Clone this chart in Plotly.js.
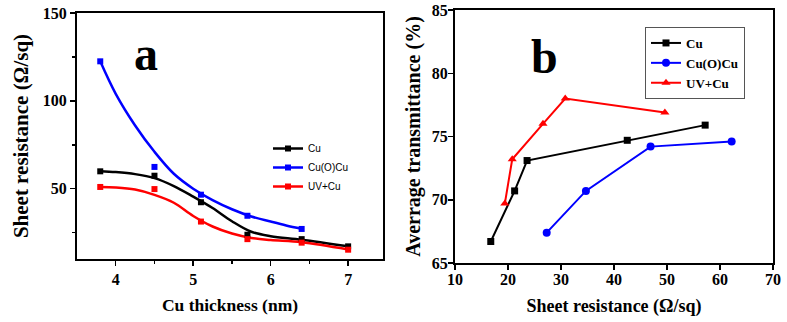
<!DOCTYPE html>
<html>
<head>
<meta charset="utf-8">
<script src="https://cdn.plot.ly/plotly-3.0.1.min.js"></script>
<style>html,body{margin:0;padding:0;background:#fff;}#chart{width:787px;height:322px;}</style>
</head>
<body>
<div id="chart"></div>
<script>
// ---- Panel a: sheet resistance vs Cu thickness ----
const thickness = [3.8, 4.5, 5.1, 5.7, 6.4, 7.0];
const rsCu = [59.9, 57.4, 42.3, 23.8, 21.3, 17.2];
const thicknessCuOCu = [3.8, 4.5, 5.1, 5.7, 6.4];
const rsCuOCu = [122.5, 62.4, 46.6, 34.6, 27.1];
const rsUV = [51.0, 49.8, 31.3, 21.3, 19.3, 15.3];

// smooth fitted curves
const fitX = [3.8, 4.0, 4.25, 4.5, 4.75, 5.0, 5.25, 5.5, 5.75, 6.0, 6.4, 7.0];
const fitCu = [60, 59.5, 58.3, 56, 51.5, 45.5, 39, 31.5, 25.5, 23, 21, 17.2];
const fitXCuOCu = [3.8, 4.0, 4.25, 4.5, 4.75, 5.0, 5.25, 5.5, 5.75, 6.0, 6.2, 6.4];
const fitCuOCu = [122.5, 104, 86, 71, 58.5, 50, 43.5, 38.3, 34.2, 31.3, 29.1, 27.2];
const fitUV = [51, 50.7, 49.5, 46.5, 42, 34.5, 28.5, 24.5, 22, 20.8, 19.5, 15.4];

// ---- Panel b: transmittance vs sheet resistance ----
const bCuRs = [16.75, 21.25, 23.6, 42.5, 57.2];
const bCuT = [66.7, 70.7, 73.1, 74.7, 75.9];
const bCuOCuRs = [27.3, 34.7, 46.9, 62.2];
const bCuOCuT = [67.4, 70.7, 74.2, 74.6];
const bUVRs = [19.4, 20.8, 26.6, 30.8, 49.6];
const bUVT = [69.7, 73.2, 76.0, 78.0, 76.9];

const seriesNames = ['Cu', 'Cu(O)Cu', 'UV+Cu'];
const colors = ['#000000', '#0000ff', '#ff0000'];

const serif = 'Liberation Serif, Times New Roman, serif';

const traces = [];
// panel a fitted curves
[[fitX, fitCu], [fitXCuOCu, fitCuOCu], [fitX, fitUV]].forEach((d, i) => {
  traces.push({x: d[0], y: d[1], mode: 'lines', line: {color: colors[i], width: 2.5, shape: 'spline', smoothing: 1},
    xaxis: 'x', yaxis: 'y', showlegend: false, hoverinfo: 'skip'});
});
// panel a points
[[thickness, rsCu], [thicknessCuOCu, rsCuOCu], [thickness, rsUV]].forEach((d, i) => {
  traces.push({x: d[0], y: d[1], mode: 'markers', marker: {color: colors[i], symbol: 'square', size: 6},
    xaxis: 'x', yaxis: 'y', showlegend: false});
});
// panel a legend entries
seriesNames.forEach((n, i) => {
  traces.push({x: [null], y: [null], name: n, mode: 'lines+markers',
    line: {color: colors[i], width: 2.5}, marker: {color: colors[i], symbol: 'square', size: 6},
    xaxis: 'x', yaxis: 'y', legend: 'legend'});
});
// panel b
const bSymbols = ['square', 'circle', 'triangle-up'];
const bSizes = [7, 8, 8];
[[bCuRs, bCuT], [bCuOCuRs, bCuOCuT], [bUVRs, bUVT]].forEach((d, i) => {
  traces.push({x: d[0], y: d[1], name: seriesNames[i], mode: 'lines+markers',
    line: {color: colors[i], width: 2}, marker: {color: colors[i], symbol: bSymbols[i], size: bSizes[i]},
    xaxis: 'x2', yaxis: 'y2', legend: 'legend2'});
});

const tickFont = {family: serif, size: 16, weight: 'bold', color: '#000'};
const axisCommon = {showline: true, linecolor: '#000', linewidth: 2, mirror: true, ticks: 'outside',
  ticklen: 5, tickwidth: 1.5, tickcolor: '#000', showgrid: false, zeroline: false, tickfont: tickFont};

const layout = {
  width: 787, height: 322,
  margin: {l: 0, r: 0, t: 0, b: 0},
  paper_bgcolor: '#fff', plot_bgcolor: '#fff',
  showlegend: true,
  xaxis: Object.assign({}, axisCommon, {domain: [77/787, 383/787], range: [3.5, 7.45], tickvals: [4, 5, 6, 7],
    minor: {tickvals: [4.5, 5.5, 6.5], ticklen: 3, tickwidth: 1.5, tickcolor: '#000', ticks: 'outside'},
    title: {text: 'Cu thickness (nm)', font: {family: serif, size: 17.5, weight: 'bold', color: '#000'}, standoff: 12},
    anchor: 'y'}),
  yaxis: Object.assign({}, axisCommon, {domain: [1 - 259/322, 1 - 13/322], range: [10, 150], tickvals: [50, 100, 150],
    minor: {tickvals: [25, 75, 125], ticklen: 3, tickwidth: 1.5, tickcolor: '#000', ticks: 'outside'},
    title: {text: 'Sheet resistance (Ω/sq)', font: {family: serif, size: 21, weight: 'bold', color: '#000'}, standoff: 8},
    anchor: 'x'}),
  xaxis2: Object.assign({}, axisCommon, {domain: [455/787, 773/787], range: [10, 70], dtick: 10, ticklabelstandoff: -4,
    title: {text: 'Sheet resistance (Ω/sq)', font: {family: serif, size: 18, weight: 'bold', color: '#000'}, standoff: 12},
    anchor: 'y2'}),
  yaxis2: Object.assign({}, axisCommon, {domain: [1 - 263/322, 1 - 10/322], range: [65, 85], dtick: 5, ticklabelstandoff: -3,
    title: {text: 'Averrage transmittance (%)', font: {family: serif, size: 20, weight: 'bold', color: '#000'}, standoff: 6},
    anchor: 'x2'}),
  legend: {x: 268/787, y: 1 - 134/322, xanchor: 'left', yanchor: 'top', bgcolor: 'rgba(0,0,0,0)',
    font: {family: 'Liberation Sans, Arial, sans-serif', size: 10, color: '#000'}, tracegroupgap: 0, borderwidth: 0},
  legend2: {x: 645/787, y: 1 - 27/322, xanchor: 'left', yanchor: 'top', bgcolor: '#fff',
    bordercolor: '#555', borderwidth: 1,
    font: {family: serif, size: 13, weight: 'bold', color: '#000'}, tracegroupgap: 0},
  annotations: [
    {text: 'a', xref: 'paper', yref: 'paper', x: 146/787, y: 1 - 54/322, xanchor: 'center', yanchor: 'middle',
      showarrow: false, font: {family: serif, size: 48, weight: 'bold', color: '#000'}},
    {text: 'b', xref: 'paper', yref: 'paper', x: 544/787, y: 1 - 56/322, xanchor: 'center', yanchor: 'middle',
      showarrow: false, font: {family: serif, size: 48, weight: 'bold', color: '#000'}}
  ]
};

Plotly.newPlot('chart', traces, layout, {staticPlot: true, displayModeBar: false});
</script>
</body>
</html>
